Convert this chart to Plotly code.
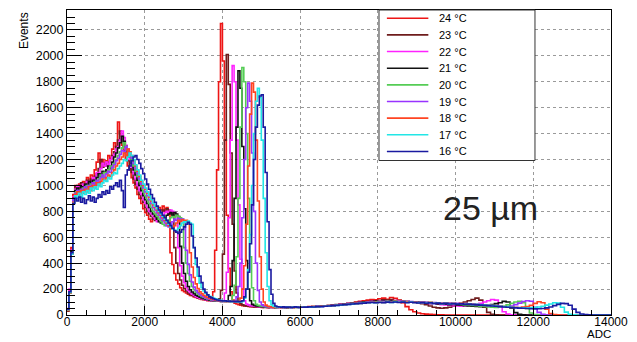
import numpy as np
import plotly.graph_objects as go

# ADC bin edges: 50-wide bins up to 6000, 100-wide bins up to 14000
bin_starts = list(range(0, 6000, 50)) + list(range(6000, 14000, 100))
last_edge = 14000

series_labels = ["24 °C", "23 °C", "22 °C", "21 °C", "20 °C", "19 °C", "18 °C", "17 °C", "16 °C"]
series_colors = ["#ee1515", "#6e1c1c", "#ff22ff", "#111111", "#55cc55",
                 "#9933ff", "#ff4422", "#22e6e6", "#1a1aa0"]

counts_24 = [
    40, 190, 520, 930, 1000, 980, 1010, 960, 1030, 990, 1060, 1010, 1080, 1050, 1120, 1180, 1250, 1170, 1200, 1160,
    1190, 1230, 1210, 1280, 1330, 1300, 1490, 1400, 1310, 1270, 1200, 1150, 1120, 1060, 1020, 980, 930, 900, 860, 820,
    790, 770, 740, 720, 740, 760, 790, 830, 810, 840, 800, 830, 780, 480, 390, 320, 270, 240, 210, 190,
    180, 170, 160, 150, 150, 140, 135, 130, 125, 120, 118, 115, 110, 112, 115, 180, 500, 1120, 1800, 2250,
    1960, 1350, 770, 360, 180, 115, 92, 85, 80, 76, 72, 70, 68, 66, 65, 64, 62, 60, 62, 60,
    58, 62, 60, 57, 61, 59, 63, 58, 60, 62, 59, 61, 57, 63, 60, 58, 62, 64, 61, 59,
    62, 60, 65, 63, 68, 66, 70, 72, 75, 78, 80, 85, 88, 95, 100, 105, 110, 115, 120, 118,
    125, 130, 122, 135, 128, 115, 95, 65, 40, 25, 15, 10, 7, 5, 3, 2, 1, 0, 0, 0,
    0, 0, 0, 0, 0, 0, 0, 0, 0, 0, 0, 0, 0, 0, 0, 0, 0, 0, 0, 0,
    0, 0, 0, 0, 0, 0, 0, 0, 0, 0, 0, 0, 0, 0, 0, 0, 0, 0, 0, 0,
]
counts_23 = [
    30, 170, 480, 900, 990, 1000, 960, 1020, 980, 1000, 1040, 990, 1050, 1020, 1070, 1090, 1130, 1200, 1140, 1170,
    1150, 1180, 1200, 1230, 1260, 1300, 1350, 1420, 1380, 1300, 1260, 1190, 1130, 1100, 1050, 1010, 970, 930, 900, 870,
    830, 800, 780, 760, 740, 730, 750, 770, 790, 810, 800, 820, 810, 790, 780, 520, 400, 320, 270, 230,
    205, 185, 170, 160, 150, 145, 140, 132, 128, 125, 120, 118, 115, 112, 110, 110, 108, 112, 125, 190,
    470, 1350, 2010, 1780, 1250, 700, 340, 170, 105, 88, 78, 72, 70, 68, 66, 64, 62, 63, 61, 60,
    61, 59, 62, 58, 60, 63, 57, 61, 59, 62, 60, 58, 61, 64, 59, 62, 60, 58, 63, 61,
    60, 63, 62, 66, 64, 68, 70, 73, 76, 80, 83, 86, 90, 92, 96, 100, 98, 104, 108, 110,
    112, 118, 115, 120, 110, 112, 105, 108, 100, 98, 95, 88, 80, 70, 60, 55, 52, 55, 60, 70,
    80, 90, 100, 110, 120, 130, 115, 60, 20, 6, 2, 0, 0, 0, 0, 0, 0, 0, 0, 0,
    0, 0, 0, 0, 0, 0, 0, 0, 0, 0, 0, 0, 0, 0, 0, 0, 0, 0, 0, 0,
]
counts_22 = [
    50, 200, 500, 910, 970, 990, 1000, 950, 1010, 1000, 1030, 980, 1020, 1060, 1050, 1100, 1080, 1130, 1170, 1150,
    1180, 1150, 1200, 1220, 1240, 1280, 1300, 1350, 1420, 1370, 1310, 1250, 1200, 1140, 1090, 1050, 1000, 960, 930, 890,
    860, 830, 800, 780, 760, 740, 720, 730, 750, 770, 790, 800, 790, 810, 800, 790, 760, 520, 380, 300,
    250, 215, 190, 175, 160, 150, 142, 135, 130, 125, 122, 118, 115, 112, 110, 108, 110, 106, 108, 105,
    110, 170, 330, 750, 1350, 1925, 1800, 1350, 850, 430, 200, 110, 85, 78, 72, 70, 68, 66, 64, 63,
    62, 60, 63, 59, 61, 58, 62, 60, 64, 59, 61, 63, 58, 60, 62, 59, 61, 60, 63, 58,
    61, 63, 60, 65, 67, 64, 69, 72, 74, 78, 82, 85, 88, 92, 95, 98, 100, 102, 105, 100,
    108, 104, 110, 106, 112, 108, 104, 110, 100, 96, 98, 92, 94, 88, 90, 84, 80, 78, 75, 72,
    70, 68, 72, 75, 80, 85, 90, 100, 110, 120, 115, 70, 25, 8, 2, 0, 0, 0, 0, 0,
    0, 0, 0, 0, 0, 0, 0, 0, 0, 0, 0, 0, 0, 0, 0, 0, 0, 0, 0, 0,
]
counts_21 = [
    45, 180, 490, 900, 960, 980, 950, 990, 970, 1010, 990, 1030, 1000, 1040, 1020, 1060, 1090, 1070, 1110, 1100,
    1120, 1150, 1130, 1180, 1220, 1250, 1290, 1330, 1380, 1340, 1300, 1260, 1220, 1170, 1120, 1080, 1040, 1000, 960, 920,
    890, 860, 830, 800, 780, 760, 740, 720, 710, 730, 750, 770, 780, 790, 770, 790, 780, 760, 530, 400,
    320, 260, 220, 195, 178, 165, 152, 145, 138, 132, 126, 122, 118, 115, 112, 110, 108, 110, 106, 104,
    106, 104, 108, 150, 220, 420, 900, 1450, 1885, 1750, 1300, 820, 420, 200, 110, 82, 74, 70, 68, 66,
    65, 63, 60, 62, 59, 61, 63, 58, 60, 62, 59, 61, 60, 57, 62, 60, 58, 61, 63, 59,
    60, 62, 64, 63, 66, 68, 70, 71, 74, 77, 80, 84, 86, 90, 94, 96, 100, 98, 103, 105,
    102, 108, 104, 110, 106, 100, 104, 98, 102, 96, 100, 94, 96, 90, 92, 86, 88, 84, 80, 82,
    78, 76, 72, 70, 68, 66, 64, 68, 72, 80, 88, 95, 105, 100, 55, 18, 5, 1, 0, 0,
    0, 0, 0, 0, 0, 0, 0, 0, 0, 0, 0, 0, 0, 0, 0, 0, 0, 0, 0, 0,
]
counts_20 = [
    40, 170, 470, 880, 950, 930, 960, 940, 980, 960, 1000, 970, 1010, 990, 1030, 1010, 1050, 1080, 1060, 1100,
    1090, 1120, 1150, 1130, 1170, 1200, 1230, 1260, 1290, 1330, 1300, 1270, 1230, 1190, 1150, 1110, 1070, 1030, 990, 950,
    920, 890, 860, 830, 800, 780, 760, 740, 720, 700, 690, 710, 730, 750, 760, 750, 770, 760, 750, 740,
    520, 400, 320, 260, 220, 195, 175, 160, 150, 142, 135, 128, 124, 120, 116, 112, 110, 108, 106, 105,
    104, 106, 102, 105, 108, 150, 230, 450, 900, 1450, 1910, 1800, 1400, 900, 450, 210, 110, 82, 74, 70,
    68, 66, 63, 65, 61, 62, 60, 63, 59, 61, 62, 58, 60, 63, 61, 59, 62, 60, 58, 61,
    62, 60, 63, 65, 64, 67, 69, 72, 73, 76, 79, 82, 85, 88, 90, 94, 96, 98, 100, 102,
    104, 100, 106, 102, 108, 104, 100, 106, 98, 102, 96, 100, 94, 98, 92, 95, 90, 92, 88, 86,
    84, 82, 78, 80, 74, 72, 68, 66, 62, 60, 58, 62, 68, 78, 90, 100, 105, 95, 50, 15,
    4, 1, 0, 0, 0, 0, 0, 0, 0, 0, 0, 0, 0, 0, 0, 0, 0, 0, 0, 0,
]
counts_19 = [
    45, 180, 480, 890, 940, 960, 930, 970, 950, 990, 960, 1000, 980, 1020, 1000, 1040, 1020, 1060, 1080, 1060,
    1090, 1110, 1100, 1140, 1160, 1190, 1210, 1240, 1270, 1260, 1300, 1280, 1250, 1210, 1170, 1130, 1090, 1050, 1010, 980,
    950, 920, 890, 860, 830, 810, 790, 770, 750, 730, 710, 690, 680, 700, 720, 740, 730, 745, 735, 740,
    720, 500, 390, 310, 255, 215, 190, 172, 158, 148, 140, 132, 126, 122, 118, 114, 112, 110, 108, 106,
    105, 104, 106, 103, 105, 102, 104, 140, 220, 400, 750, 1200, 1600, 1790, 1650, 1250, 800, 400, 190, 100,
    78, 70, 66, 64, 62, 60, 63, 61, 59, 62, 60, 58, 61, 63, 60, 59, 62, 60, 61, 59,
    60, 62, 61, 64, 66, 65, 68, 70, 72, 75, 78, 80, 84, 86, 90, 92, 95, 98, 100, 97,
    100, 103, 99, 104, 100, 106, 102, 98, 103, 100, 96, 101, 98, 94, 97, 92, 95, 90, 92, 88,
    90, 86, 88, 84, 86, 82, 80, 78, 74, 72, 68, 66, 62, 64, 70, 80, 92, 104, 110, 106,
    60, 20, 5, 1, 0, 0, 0, 0, 0, 0, 0, 0, 0, 0, 0, 0, 0, 0, 0, 0,
]
counts_18 = [
    35, 170, 470, 870, 930, 950, 920, 960, 940, 970, 950, 990, 960, 1000, 980, 1020, 1000, 1030, 1050, 1040,
    1060, 1080, 1070, 1100, 1120, 1150, 1170, 1200, 1220, 1250, 1230, 1280, 1260, 1230, 1190, 1150, 1110, 1070, 1030, 1000,
    970, 940, 910, 880, 850, 830, 810, 790, 770, 750, 730, 710, 690, 675, 665, 690, 710, 730, 720, 735,
    725, 730, 710, 480, 370, 290, 240, 205, 180, 165, 152, 142, 135, 128, 124, 120, 116, 113, 110, 108,
    106, 104, 107, 103, 105, 102, 104, 101, 103, 130, 200, 380, 700, 1150, 1550, 1790, 1720, 1350, 880, 450,
    200, 100, 76, 68, 64, 62, 60, 63, 61, 59, 62, 60, 58, 61, 63, 60, 59, 62, 60, 61,
    61, 63, 62, 65, 64, 67, 70, 69, 72, 75, 77, 80, 83, 85, 88, 90, 93, 95, 98, 96,
    100, 97, 102, 99, 104, 100, 97, 102, 98, 100, 95, 98, 94, 96, 92, 94, 90, 92, 88, 90,
    86, 88, 84, 86, 82, 80, 78, 76, 74, 72, 70, 68, 66, 64, 62, 60, 58, 62, 66, 74,
    90, 102, 95, 45, 12, 3, 1, 0, 0, 0, 0, 0, 0, 0, 0, 0, 0, 0, 0, 0,
]
counts_17 = [
    40, 175, 470, 860, 920, 900, 940, 910, 950, 930, 960, 940, 980, 960, 990, 970, 1010, 990, 1020, 1040,
    1030, 1060, 1050, 1080, 1100, 1090, 1130, 1150, 1170, 1200, 1190, 1220, 1250, 1230, 1200, 1160, 1120, 1080, 1040, 1010,
    980, 950, 920, 890, 860, 840, 820, 800, 780, 760, 740, 720, 700, 680, 665, 655, 650, 670, 690, 710,
    720, 715, 725, 710, 700, 520, 390, 300, 245, 210, 185, 168, 155, 145, 138, 130, 125, 120, 116, 112,
    110, 108, 106, 105, 103, 104, 102, 100, 103, 101, 104, 130, 200, 350, 620, 1000, 1400, 1650, 1750, 1680,
    1350, 900, 480, 220, 110, 78, 68, 64, 62, 60, 63, 61, 59, 62, 60, 58, 61, 60, 62, 59,
    60, 62, 61, 63, 65, 64, 67, 69, 71, 74, 76, 79, 82, 84, 87, 90, 92, 95, 97, 95,
    98, 96, 100, 97, 102, 98, 100, 96, 99, 97, 94, 97, 92, 95, 90, 93, 88, 91, 86, 89,
    85, 87, 83, 85, 80, 82, 78, 76, 74, 72, 70, 68, 65, 63, 60, 58, 56, 55, 54, 56,
    58, 62, 68, 76, 85, 95, 92, 60, 22, 6, 1, 0, 0, 0, 0, 0, 0, 0, 0, 0,
]
counts_16 = [
    45, 180, 480, 860, 900, 880, 910, 870, 900, 860, 890, 920, 880, 910, 870, 900, 930, 910, 950, 930,
    960, 940, 990, 970, 1000, 1020, 990, 1040, 960, 830, 1080, 1120, 1150, 1190, 1220, 1230, 1200, 1170, 1130, 1090,
    1050, 1010, 970, 930, 900, 870, 840, 810, 790, 770, 750, 730, 710, 690, 670, 650, 640, 630, 640, 660,
    680, 700, 715, 700, 610, 520, 440, 370, 300, 250, 200, 175, 155, 140, 132, 125, 120, 116, 113, 110,
    108, 110, 106, 108, 104, 106, 103, 105, 102, 104, 110, 140, 200, 330, 550, 850, 1200, 1450, 1620, 1690,
    1700, 1450, 1100, 720, 350, 160, 90, 70, 64, 62, 60, 63, 59, 61, 62, 58, 60, 63, 61, 60,
    60, 61, 63, 62, 65, 66, 68, 70, 72, 74, 77, 80, 82, 85, 87, 90, 92, 94, 96, 94,
    97, 95, 99, 96, 100, 97, 99, 95, 98, 96, 93, 96, 91, 94, 89, 92, 87, 90, 85, 88,
    84, 86, 82, 84, 80, 78, 76, 74, 72, 70, 68, 65, 62, 60, 58, 55, 53, 52, 50, 48,
    47, 48, 50, 55, 62, 72, 82, 90, 88, 75, 45, 20, 8, 3, 1, 0, 0, 0, 0, 0,
]

all_counts = [counts_24, counts_23, counts_22, counts_21, counts_20,
              counts_19, counts_18, counts_17, counts_16]

FONT = "Liberation Sans, Arial, Helvetica, sans-serif"

# plot area geometry (pixels) used to place the hand-drawn legend box
W, H = 637, 342
ML, MR, MT, MB = 67, 19, 9, 27
PW, PH = W - ML - MR, H - MT - MB


def px_x(px):
    return (px - ML) / PW


def px_y(py):
    return 1 - (py - MT) / PH


fig = go.Figure()
x_steps = bin_starts + [last_edge]
for label, color, counts in zip(series_labels, series_colors, all_counts):
    fig.add_trace(go.Scatter(
        x=x_steps, y=list(counts) + [counts[-1]],
        mode="lines", line=dict(shape="hv", color=color, width=1.6),
        name=label, hoverinfo="skip", showlegend=False,
    ))

axis_common = dict(
    showline=True, linecolor="black", linewidth=1, mirror=True,
    ticks="inside", tickcolor="black", tickwidth=1,
    showgrid=True, gridcolor="#9a9a9a", griddash="dot", gridwidth=1,
    zeroline=False, tickformat="d", ticklabeloverflow="allow",
)

shapes = [dict(type="rect", xref="paper", yref="paper",
               x0=px_x(383), x1=px_x(541), y0=px_y(160), y1=px_y(9),
               line=dict(color="#333333", width=1), fillcolor="white", layer="above")]
annotations = []
for i, (label, color) in enumerate(zip(series_labels, series_colors)):
    yy = px_y(17.3 + 16.7 * i)
    shapes.append(dict(type="line", xref="paper", yref="paper",
                       x0=px_x(391), x1=px_x(433), y0=yy, y1=yy,
                       line=dict(color=color, width=1.6), layer="above"))
    annotations.append(dict(text=label, xref="paper", yref="paper",
                            x=px_x(442), y=yy, xanchor="left", yanchor="middle",
                            showarrow=False,
                            font=dict(family=FONT, size=11, color="black")))

annotations += [
    dict(text="Events", xref="paper", yref="paper", x=px_x(23), y=1.0,
         xanchor="center", yanchor="top", textangle=-90, showarrow=False,
         font=dict(family=FONT, size=12, color="black")),
    dict(text="ADC", xref="paper", yref="paper", x=px_x(619), y=px_y(341.5),
         xanchor="right", yanchor="bottom", showarrow=False, borderpad=0,
         font=dict(family=FONT, size=11.5, color="black")),
    dict(text="25 µm", xref="paper", yref="paper", x=px_x(496), y=px_y(208),
         xanchor="center", yanchor="middle", showarrow=False,
         font=dict(family=FONT, size=34, color="#222222")),
]

fig.update_layout(
    width=W, height=H,
    margin=dict(l=ML, r=MR, t=MT, b=MB),
    paper_bgcolor="white", plot_bgcolor="white",
    showlegend=False,
    xaxis=dict(range=[0, 14000], dtick=2000, tick0=0, ticklen=9,
               ticklabelstandoff=-4,
               tickfont=dict(family=FONT, size=12, color="black"),
               minor=dict(dtick=500, ticks="inside", ticklen=5, tickcolor="black", showgrid=False),
               **axis_common),
    yaxis=dict(range=[0, 2354], dtick=200, tick0=0, ticklen=15,
               tickfont=dict(family=FONT, size=12.5, color="black"),
               minor=dict(dtick=50, ticks="inside", ticklen=8, tickcolor="black", showgrid=False),
               **axis_common),
    shapes=shapes,
    annotations=annotations,
)

fig.write_html("out.html")
